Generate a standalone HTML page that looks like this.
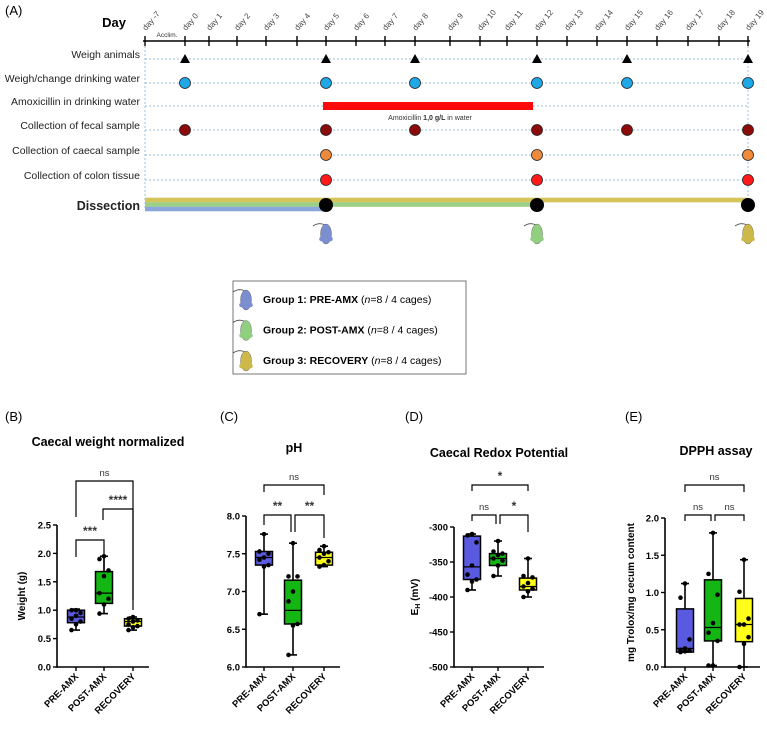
<!DOCTYPE html>
<html><head><meta charset="utf-8"><style>
body{margin:0;background:#fff;}
svg{display:block;font-family:"Liberation Sans",sans-serif;}
</style></head><body>
<svg id="fig" width="767" height="730" viewBox="0 0 767 730">
<g id="tl"></g>
<g id="charts"></g>
</svg>
<script>
// ===== Timeline data =====
const dayLabels=["day -7","day 0","day 1","day 2","day 3","day 4","day 5","day 6","day 7","day 8","day 9","day 10","day 11","day 12","day 13","day 14","day 15","day 16","day 17","day 18","day 19"];
const dayNums=[-7,0,1,2,3,4,5,6,7,8,9,10,11,12,13,14,15,16,17,18,19];
const rowLabels=["Weigh animals","Weigh/change drinking water","Amoxicillin in drinking water","Collection of fecal sample","Collection of caecal sample","Collection of colon tissue","Dissection"];
const weighDays=[0,5,8,12,15,19];
const waterDays=[0,5,8,12,15,19];
const fecalDays=[0,5,8,12,15,19];
const caecalDays=[5,12,19];
const colonDays=[5,12,19];
const dissectDays=[5,12,19];
const amxStart=5, amxEnd=12;
const groupEnd=[5,12,19];
// ===== Chart data =====
const categories=["PRE-AMX","POST-AMX","RECOVERY"];
const weightBox=[[0.65,0.78,0.88,1.0,1.02],[0.94,1.12,1.3,1.68,1.95],[0.65,0.72,0.8,0.85,0.88]];
const weightPts=[[0.65,0.75,0.8,0.85,0.9,0.95,1.0,1.0],[0.94,1.1,1.2,1.3,1.6,1.7,1.9,1.95],[0.65,0.7,0.72,0.75,0.8,0.82,0.85,0.88]];
const phBox=[[6.7,7.35,7.45,7.53,7.76],[6.16,6.57,6.75,7.15,7.64],[7.33,7.35,7.45,7.52,7.6]];
const phPts=[[6.7,7.33,7.35,7.42,7.45,7.5,7.53,7.76],[6.16,6.55,6.57,6.87,7.0,7.2,7.2,7.64],[7.33,7.35,7.4,7.45,7.5,7.52,7.55,7.6]];
const ehBox=[[-390,-375,-357,-313,-310],[-370,-355,-345,-338,-320],[-400,-390,-385,-373,-345]];
const ehPts=[[-390,-378,-375,-368,-355,-322,-312,-310],[-370,-355,-348,-345,-340,-338,-335,-320],[-400,-392,-388,-385,-380,-372,-370,-345]];
const dpphBox=[[0.2,0.2,0.25,0.78,1.12],[0.02,0.35,0.53,1.17,1.8],[0.0,0.34,0.57,0.92,1.44]];
const dpphPts=[[0.2,0.21,0.22,0.23,0.25,0.37,0.93,1.12],[0.02,0.02,0.35,0.46,0.59,0.97,1.25,1.8],[0.0,0.31,0.4,0.57,0.57,0.65,1.01,1.44]];
const weightTicks=["0.0","0.5","1.0","1.5","2.0","2.5"];
const phTicks=["6.0","6.5","7.0","7.5","8.0"];
const ehTicks=["-500","-450","-400","-350","-300"];
const dpphTicks=["0.0","0.5","1.0","1.5","2.0"];

const NS="http://www.w3.org/2000/svg";
function mk(parent,tag,attrs,text){const e=document.createElementNS(NS,tag);for(const k in attrs)e.setAttribute(k,attrs[k]);if(text!==undefined)e.textContent=text;parent.appendChild(e);return e;}

// ===== Timeline =====
const tl=document.getElementById('tl');
const dayX=[145,185,209,237,266,297,326,356,385,415,450,480,507,537,567,597,627,657,688,719,748];
function xd(d){return dayX[dayNums.indexOf(d)];}
const rowY=[59,83,106,130,155,180,205];
let t=mk(tl,'text',{x:5,y:15,'font-size':13},'(A)');


t=mk(tl,'text',{x:126,y:27,'font-size':13,'font-weight':'bold','text-anchor':'end'},'Day');


let ax=mk(tl,'line',{x1:143,y1:41,x2:750,y2:41,stroke:'#000','stroke-width':1.6});


dayNums.forEach((d,i)=>{const x=xd(d);
 const tk=mk(tl,'line',{x1:x,y1:36,x2:x,y2:46,stroke:'#000','stroke-width':1.4});
 
 
 const lb=mk(tl,'text',{x:x+1,y:31,'font-size':8,fill:'#444',transform:`rotate(-50 ${x+1} 31)`},dayLabels[i]);
 
 
});
t=mk(tl,'text',{x:167,y:37,'font-size':6.5,fill:'#333','text-anchor':'middle'},'Acclim.');


mk(tl,'line',{x1:145,y1:46,x2:145,y2:210,stroke:'#7aa6c8','stroke-width':0.7,'stroke-dasharray':'2,2'});
mk(tl,'line',{x1:748,y1:46,x2:748,y2:205,stroke:'#7aa6c8','stroke-width':0.7,'stroke-dasharray':'2,2'});
rowLabels.forEach((r,i)=>{const y=rowY[i];
 if(i<6){const dl=mk(tl,'line',{x1:145,y1:y,x2:748,y2:y,stroke:'#7aa6c8','stroke-width':0.7,'stroke-dasharray':'2,2'});
 
 }
 const lb=mk(tl,'text',{x:140,y:i<6?y-1:y+5,'font-size':i<6?10.5:12.5,'font-weight':i<6?'normal':'bold','text-anchor':'end',fill:'#222'},r);
 
 
});
weighDays.forEach(d=>{const x=xd(d),y=rowY[0];
 const p=mk(tl,'polygon',{points:`${x-5},${y+4} ${x+5},${y+4} ${x},${y-5}`,fill:'#000'});
 
 });
function dots(days,row,r,fill,name){days.forEach(d=>{const c=mk(tl,'circle',{cx:xd(d),cy:rowY[row],r:r,fill:fill,stroke:'#222','stroke-width':0.8});
 
 });}
dots(waterDays,1,5.5,'#1fa8e6','water-marker');
let bar=mk(tl,'rect',{x:xd(amxStart)-3,y:rowY[2]-4,width:xd(amxEnd)-xd(amxStart)-1,height:8,fill:'#ff0a0a'});


t=mk(tl,'text',{x:430,y:120,'font-size':7,fill:'#333','text-anchor':'middle'});
t.innerHTML='Amoxicillin <tspan font-weight="bold">1,0 g/L</tspan> in water';


dots(fecalDays,3,5.5,'#8b0a0a','fecal-marker');
dots(caecalDays,4,5.5,'#ef8a3a','caecal-marker');
dots(colonDays,5,5.5,'#ff1a1a','colon-marker');
const gcol=['#8aa6da','#9ccf86','#d4c45a'];
[[2,200],[1,204.5],[0,209]].forEach(([g,y])=>{const b=mk(tl,'rect',{x:145,y:y-2.3,width:xd(groupEnd[g])-145,height:4.6,fill:gcol[g]});
 
 });
dissectDays.forEach(d=>{const c=mk(tl,'circle',{cx:xd(d),cy:rowY[6],r:7,fill:'#000'});
 
 });
const mouseCol=['#7b8fd0','#8fcf7f','#cdb84a'];
function mouse(x,y,c,name){const g=mk(tl,'g',{});
 
 
 mk(g,'path',{d:`M${x-1},${y-9} q-6,-3 -12,1`,stroke:'#444','stroke-width':0.8,fill:'none'});
 mk(g,'ellipse',{cx:x,cy:y,rx:5.5,ry:10,fill:c,stroke:'#555','stroke-width':0.4});
 mk(g,'circle',{cx:x-4.5,cy:y+5,r:2.3,fill:c});mk(g,'circle',{cx:x+4.5,cy:y+5,r:2.3,fill:c});}
dissectDays.forEach((d,i)=>mouse(xd(d),234,mouseCol[i],'group-'+(i+1)+'-mouse-icon'));
let lg=mk(tl,'rect',{x:233,y:281,width:233,height:93,fill:'#fff',stroke:'#555','stroke-width':0.8});


const legTxt=[["Group 1: PRE-AMX"],["Group 2: POST-AMX"],["Group 3: RECOVERY"]];
legTxt.forEach((l,i)=>{const y=303+i*30.5;mouse(246,y-3,mouseCol[i],'legend-mouse-icon');
 const e=mk(tl,'text',{x:263,y:y,'font-size':10.5,fill:'#000'});
 e.innerHTML=`<tspan font-weight="bold">${l[0]}</tspan> (<tspan font-style="italic">n</tspan>=8 / 4 cages)`;
 
 });

// ===== Box plots =====
const ch=document.getElementById('charts');
const boxCol=['#5a5ae0','#13b613','#ffff1a'];
function panel(o){
 const g=mk(ch,'g',{});
 
 
 const ys=v=>o.y0-(v-o.vmin)/(o.vmax-o.vmin)*(o.y0-o.y1);
 let e=mk(g,'text',{x:o.lx,y:421,'font-size':13},o.letter);
 
 
 e=mk(g,'text',{x:o.tx,y:o.ty,'font-size':12.5,'font-weight':'bold','text-anchor':'middle'},o.title);
 
 
 e=mk(g,'line',{x1:o.ax,y1:o.y1,x2:o.ax,y2:o.y0+0.8,stroke:'#000','stroke-width':1.6});
 
 
 e=mk(g,'line',{x1:o.ax,y1:o.y0,x2:o.cx[2]+16,y2:o.y0,stroke:'#000','stroke-width':1.6});
 
 
 o.ticks.forEach((tk,i)=>{const v=o.vmin+i*(o.vmax-o.vmin)/(o.ticks.length-1);const y=ys(v);
  mk(g,'line',{x1:o.ax-4,y1:y,x2:o.ax,y2:y,stroke:'#000','stroke-width':1.4});
  const l=mk(g,'text',{x:o.ax-6,y:y+3.5,'font-size':9.5,'font-weight':'bold','text-anchor':'end'},tk);
  
  });
 const yl=mk(g,'text',{x:0,y:0,'font-size':10,'font-weight':'bold','text-anchor':'middle',transform:`translate(${o.ylx},${(o.y0+o.y1)/2}) rotate(-90)`});
 yl.innerHTML=o.ylabel;
 
 
 categories.forEach((c,i)=>{const x=o.cx[i];
  mk(g,'line',{x1:x,y1:o.y0,x2:x,y2:o.y0+4,stroke:'#000','stroke-width':1.4});
  const l=mk(g,'text',{x:x+3,y:o.y0+10,'font-size':9.5,'font-weight':'bold','text-anchor':'end',transform:`rotate(-45 ${x+3} ${o.y0+10})`},c);
  
  
  const b=o.box[i],w=8.5;
  const bg=mk(g,'g',{});
  
  
  mk(bg,'line',{x1:x,y1:ys(b[0]),x2:x,y2:ys(b[4]),stroke:'#000','stroke-width':1.6});
  mk(bg,'line',{x1:x-4,y1:ys(b[0]),x2:x+4,y2:ys(b[0]),stroke:'#000','stroke-width':1.6});
  mk(bg,'line',{x1:x-4,y1:ys(b[4]),x2:x+4,y2:ys(b[4]),stroke:'#000','stroke-width':1.6});
  mk(bg,'rect',{x:x-w,y:ys(b[3]),width:2*w,height:Math.max(1,ys(b[1])-ys(b[3])),fill:boxCol[i],stroke:'#000','stroke-width':1.5});
  mk(bg,'line',{x1:x-w,y1:ys(b[2]),x2:x+w,y2:ys(b[2]),stroke:'#000','stroke-width':1.2});
  o.pts[i].forEach((v,j)=>{const p=mk(bg,'circle',{cx:x+((j%3)-1)*4.5,cy:ys(v),r:2.3,fill:'#000'});
   
   });
 });
 o.sig.forEach(s=>{const xa=o.cx[s[0]],xb=o.cx[s[1]]+(s[6]||0),xa2=xa+(s[7]||0);
  const br=mk(g,'path',{d:`M${xa2},${s[3]} V${s[2]} H${xb} V${s[4]}`,stroke:'#000','stroke-width':1.2,fill:'none'});
  
  
  const l=mk(g,'text',{x:(xa2+xb)/2,y:s[2]-5,'font-size':s[5]=='ns'?9.5:12,'font-weight':s[5]=='ns'?'normal':'bold','text-anchor':'middle',fill:'#333'},s[5]);
  
  });
}
panel({name:'panel-b-caecal-weight',letter:'(B)',lx:5,title:'Caecal weight normalized',tx:108,ty:446,ax:57,y0:667,y1:525,vmin:0,vmax:2.5,ticks:weightTicks,cx:[76,104,133],box:weightBox,pts:weightPts,ylabel:'Weight (g)',ylx:25,
 sig:[[0,2,481,517,600,'ns'],[1,2,509,520,610,'****',0,-1],[0,1,540,557,570,'***']]});
panel({name:'panel-c-ph',letter:'(C)',lx:220,title:'pH',tx:294,ty:452,ax:246,y0:667,y1:516,vmin:6,vmax:8,ticks:phTicks,cx:[264,293,324],box:phBox,pts:phPts,ylabel:'',ylx:0,
 sig:[[0,2,485,492,495,'ns'],[0,1,515,525,532,'**',-2],[1,2,515,532,538,'**',0,2]]});
panel({name:'panel-d-redox',letter:'(D)',lx:405,title:'Caecal Redox Potential',tx:499,ty:457,ax:454,y0:667,y1:527,vmin:-500,vmax:-300,ticks:ehTicks,cx:[472,498,528],box:ehBox,pts:ehPts,ylabel:'E<tspan font-size="7" dy="2">H</tspan><tspan dy="-2"> (mV)</tspan>',ylx:418,
 sig:[[0,2,485,491,491,'*'],[0,1,515,521,524,'ns',-2],[1,2,515,524,532,'*',0,2]]});
panel({name:'panel-e-dpph',letter:'(E)',lx:625,title:'DPPH assay',tx:716,ty:455,ax:665,y0:667,y1:518,vmin:0,vmax:2.0,ticks:dpphTicks,cx:[685,713,744],box:dpphBox,pts:dpphPts,ylabel:'mg Trolox/mg cecum content',ylx:634,
 sig:[[0,2,485,492,492,'ns'],[0,1,515,521,521,'ns',-2],[1,2,515,521,521,'ns',0,2]]});
</script>
</body></html>
